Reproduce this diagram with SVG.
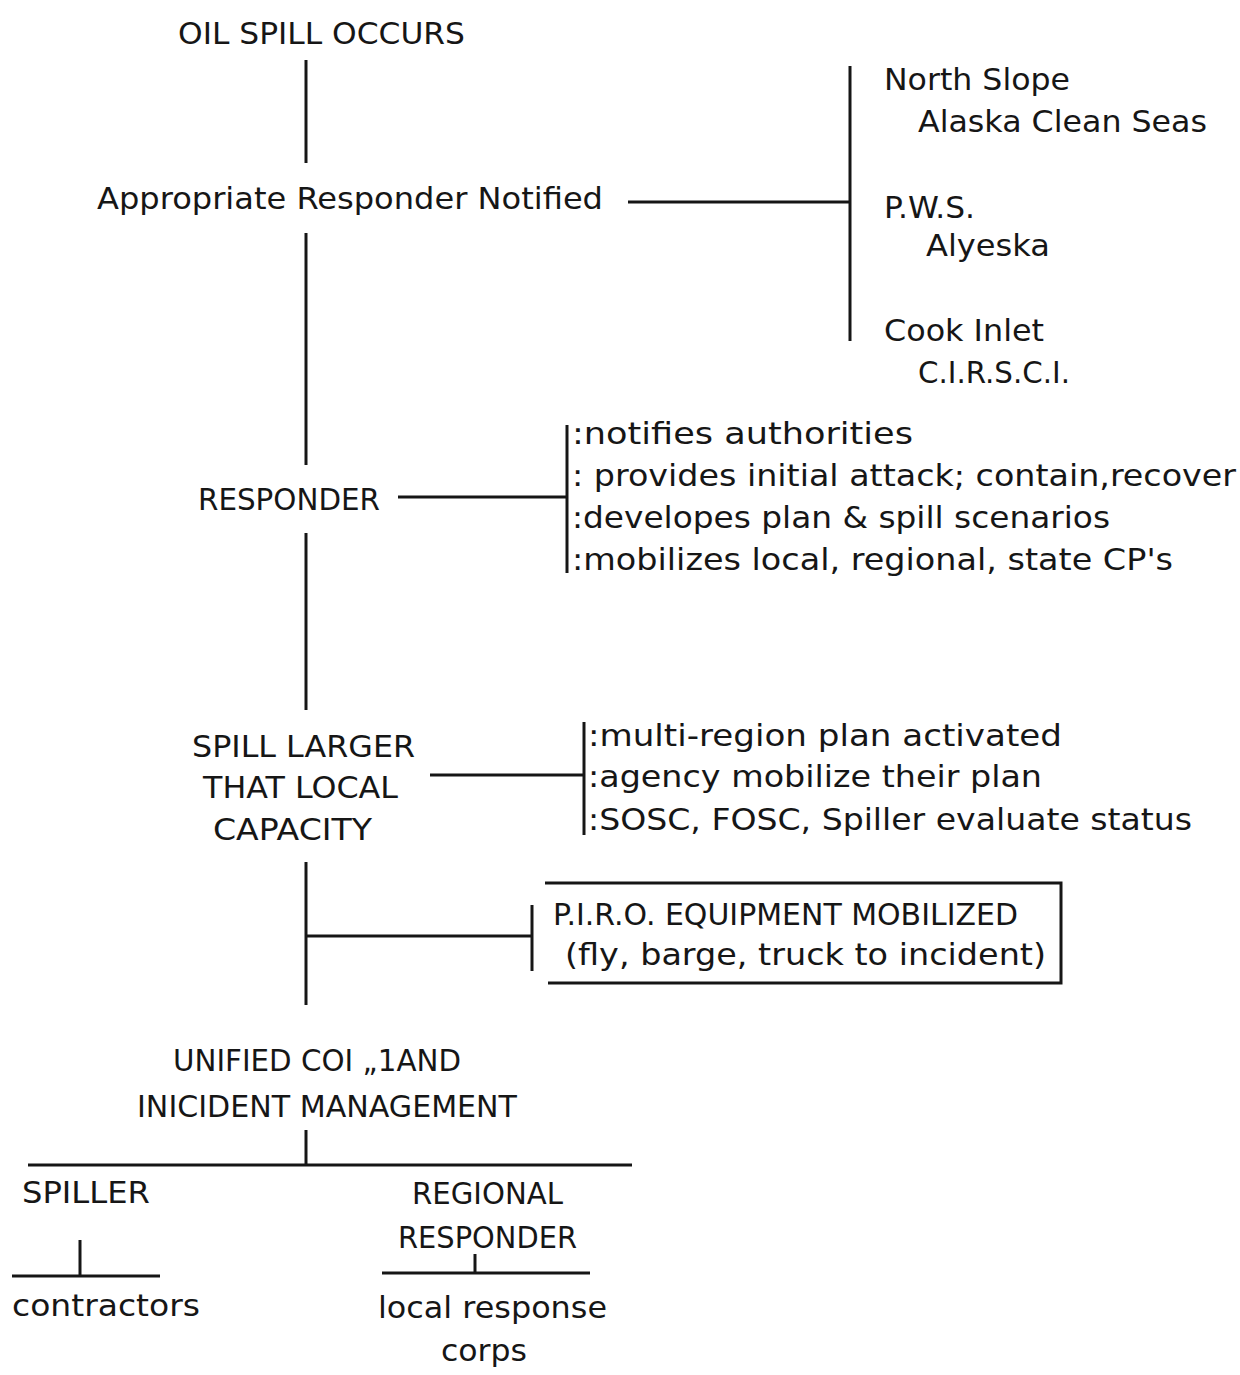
<svg xmlns="http://www.w3.org/2000/svg" width="1240" height="1375" viewBox="0 0 1240 1375">
<style>
.t{font-family:"DejaVu Sans","Liberation Sans",sans-serif;font-size:30px;fill:#161616}
.c line{stroke:#161616;stroke-width:3;stroke-linecap:butt}
</style>
<rect width="1240" height="1375" fill="#ffffff"/>
<g class="c" id="connectors">
<line x1="306" y1="60" x2="306" y2="163"/>
<line x1="306" y1="233" x2="306" y2="465"/>
<line x1="628" y1="202" x2="850" y2="202"/>
<line x1="850" y1="66" x2="850" y2="341"/>
<line x1="306" y1="533" x2="306" y2="710"/>
<line x1="398" y1="497" x2="567" y2="497"/>
<line x1="567" y1="425" x2="567" y2="573"/>
<line x1="430" y1="775" x2="584" y2="775"/>
<line x1="584" y1="722" x2="584" y2="835"/>
<line x1="306" y1="862" x2="306" y2="1005"/>
<line x1="306" y1="936" x2="532" y2="936"/>
<line x1="532" y1="905" x2="532" y2="971"/>
<line x1="306" y1="1130" x2="306" y2="1165"/>
<line x1="28" y1="1165" x2="632" y2="1165"/>
<line x1="80" y1="1240" x2="80" y2="1276"/>
<line x1="12" y1="1276" x2="160" y2="1276"/>
<line x1="475" y1="1254" x2="475" y2="1273"/>
<line x1="382" y1="1273" x2="590" y2="1273"/>
</g>
<g id="n_oil"><text class="t" x="178" y="44" textLength="287" lengthAdjust="spacingAndGlyphs">OIL SPILL OCCURS</text></g>
<g id="n_notified"><text class="t" x="97" y="209" textLength="506" lengthAdjust="spacingAndGlyphs">Appropriate Responder Notified</text></g>
<g id="n_regions">
<text class="t" x="884" y="90" textLength="186" lengthAdjust="spacingAndGlyphs">North Slope</text>
<text class="t" x="918" y="132" textLength="289" lengthAdjust="spacingAndGlyphs">Alaska Clean Seas</text>
<text class="t" x="884" y="218" textLength="91" lengthAdjust="spacingAndGlyphs">P.W.S.</text>
<text class="t" x="926" y="256" textLength="124" lengthAdjust="spacingAndGlyphs">Alyeska</text>
<text class="t" x="884" y="341" textLength="160" lengthAdjust="spacingAndGlyphs">Cook Inlet</text>
<text class="t" x="918" y="383" textLength="152" lengthAdjust="spacingAndGlyphs">C.I.R.S.C.I.</text>
</g>
<g id="n_responder"><text class="t" x="198" y="510" textLength="182" lengthAdjust="spacingAndGlyphs">RESPONDER</text></g>
<g id="n_responder_tasks">
<text class="t" x="572" y="444" textLength="341" lengthAdjust="spacingAndGlyphs">:notifies authorities</text>
<text class="t" x="572" y="486" textLength="664" lengthAdjust="spacingAndGlyphs">: provides initial attack; contain,recover</text>
<text class="t" x="572" y="528" textLength="538" lengthAdjust="spacingAndGlyphs">:developes plan &amp; spill scenarios</text>
<text class="t" x="572" y="570" textLength="601" lengthAdjust="spacingAndGlyphs">:mobilizes local, regional, state CP's</text>
</g>
<g id="n_larger">
<text class="t" x="192" y="757" textLength="223" lengthAdjust="spacingAndGlyphs">SPILL LARGER</text>
<text class="t" x="203" y="798" textLength="195" lengthAdjust="spacingAndGlyphs">THAT LOCAL</text>
<text class="t" x="213" y="840" textLength="159" lengthAdjust="spacingAndGlyphs">CAPACITY</text>
</g>
<g id="n_larger_tasks">
<text class="t" x="588" y="746" textLength="474" lengthAdjust="spacingAndGlyphs">:multi-region plan activated</text>
<text class="t" x="588" y="787" textLength="454" lengthAdjust="spacingAndGlyphs">:agency mobilize their plan</text>
<text class="t" x="588" y="830" textLength="604" lengthAdjust="spacingAndGlyphs">:SOSC, FOSC, Spiller evaluate status</text>
</g>
<g id="n_piro">
<path d="M545 883 H1061 V983 H548" fill="none" stroke="#161616" stroke-width="3"/>
<text class="t" x="553" y="925" textLength="465" lengthAdjust="spacingAndGlyphs">P.I.R.O. EQUIPMENT MOBILIZED</text>
<text class="t" x="565" y="965" textLength="481" lengthAdjust="spacingAndGlyphs">(fly, barge, truck to incident)</text>
</g>
<g id="n_unified">
<text class="t" x="173" y="1071" textLength="288" lengthAdjust="spacingAndGlyphs">UNIFIED COI „1AND</text>
<text class="t" x="137" y="1117" textLength="380" lengthAdjust="spacingAndGlyphs">INICIDENT MANAGEMENT</text>
</g>
<g id="n_spiller"><text class="t" x="22" y="1203" textLength="128" lengthAdjust="spacingAndGlyphs">SPILLER</text></g>
<g id="n_contractors"><text class="t" x="12" y="1316" textLength="188" lengthAdjust="spacingAndGlyphs">contractors</text></g>
<g id="n_regional">
<text class="t" x="412" y="1204" textLength="151" lengthAdjust="spacingAndGlyphs">REGIONAL</text>
<text class="t" x="398" y="1248" textLength="179" lengthAdjust="spacingAndGlyphs">RESPONDER</text>
</g>
<g id="n_local">
<text class="t" x="378" y="1318" textLength="229" lengthAdjust="spacingAndGlyphs">local response</text>
<text class="t" x="441" y="1361" textLength="86" lengthAdjust="spacingAndGlyphs">corps</text>
</g>
</svg>
